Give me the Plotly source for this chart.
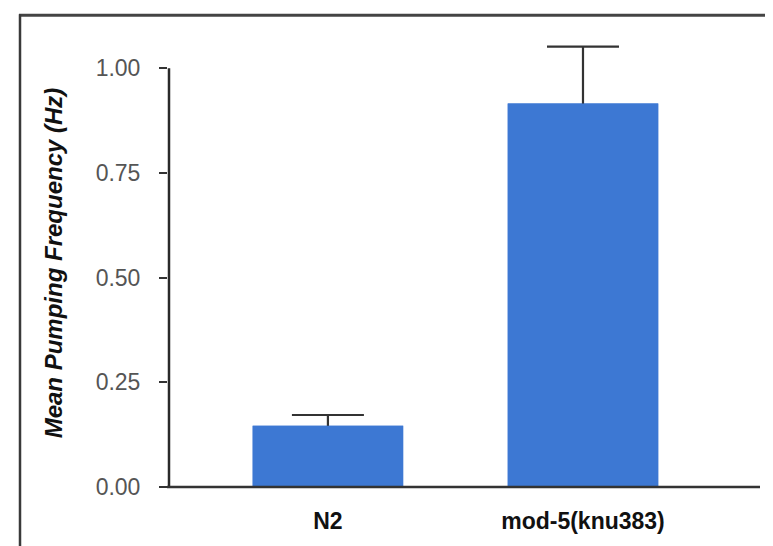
import plotly.graph_objects as go

categories = ["N2", "mod-5(knu383)"]
means = [0.146, 0.916]
errors = [0.026, 0.136]
y_ticks = [0.0, 0.25, 0.5, 0.75, 1.0]
y_tick_labels = ["0.00", "0.25", "0.50", "0.75", "1.00"]

W, H = 773, 546
Y_TOP = 1.07
px_per_unit = 419.0
L, R, B = 160, 21, 67
ph = px_per_unit * Y_TOP
T = H - B - ph
pw = W - L - R

font_family = "Liberation Sans, Arial, Helvetica"

fig = go.Figure()
# bars with error bars (lower part hidden by the overlay bar)
fig.add_trace(go.Bar(
    x=[0, 1], y=means, width=0.59,
    marker=dict(color="#3d78d3", line=dict(width=0)),
    error_y=dict(type="data", array=errors, color="#333333", thickness=2.2, width=36),
))
fig.add_trace(go.Bar(
    x=[0, 1], y=means, width=0.59,
    marker=dict(color="#3d78d3", line=dict(width=0)),
))

fig.update_layout(
    width=W, height=H,
    margin=dict(l=L, r=R, t=T, b=B, autoexpand=False),
    paper_bgcolor="white", plot_bgcolor="white",
    showlegend=False, barmode="overlay",
    xaxis=dict(
        range=[-0.627, 1.694],
        tickmode="array", tickvals=[0, 1], ticktext=categories,
        showline=False, ticks="", showgrid=False, zeroline=False,
        tickfont=dict(family=font_family, size=23, color="#111111", weight="bold"),
        ticklabelstandoff=18,
    ),
    yaxis=dict(
        range=[0, Y_TOP],
        tickmode="array", tickvals=y_ticks, ticktext=y_tick_labels,
        showline=False,
        ticks="outside", ticklen=8, tickwidth=2, tickcolor="#333333",
        showgrid=False, zeroline=False,
        tickfont=dict(family=font_family, size=23, color="#555555"),
        ticklabelstandoff=14,
        title=dict(text="<b><i>Mean Pumping Frequency (Hz)</i></b>",
                   font=dict(family=font_family, size=24, color="#111111"),
                   standoff=26),
    ),
)

def px_x(v):
    return (v - L) / pw

def px_y(v):
    return (H - B - v) / ph

# axis lines (y axis line stops at 1.00)
fig.add_shape(type="line", xref="paper", yref="paper", x0=px_x(L + 1), x1=px_x(L + 1),
              y0=px_y(H - B + 1), y1=1.0 / Y_TOP, layer="above",
              line=dict(color="#2a2a2a", width=2.5))
fig.add_shape(type="line", xref="paper", yref="paper", x0=px_x(L - 1), x1=1, y0=0, y1=0,
              layer="above", line=dict(color="#333333", width=2.5))

# outer frame: dark top and left, faint right
fig.add_shape(type="line", xref="paper", yref="paper",
              x0=px_x(11), x1=px_x(773), y0=px_y(7), y1=px_y(7),
              line=dict(color="#444444", width=3))
fig.add_shape(type="line", xref="paper", yref="paper",
              x0=px_x(12), x1=px_x(12), y0=px_y(6), y1=px_y(546),
              line=dict(color="#3a3a3a", width=2.5))
fig.add_shape(type="line", xref="paper", yref="paper",
              x0=px_x(771), x1=px_x(771), y0=px_y(7), y1=px_y(546),
              line=dict(color="#dddddd", width=1.5))

fig.write_html("out.html")
